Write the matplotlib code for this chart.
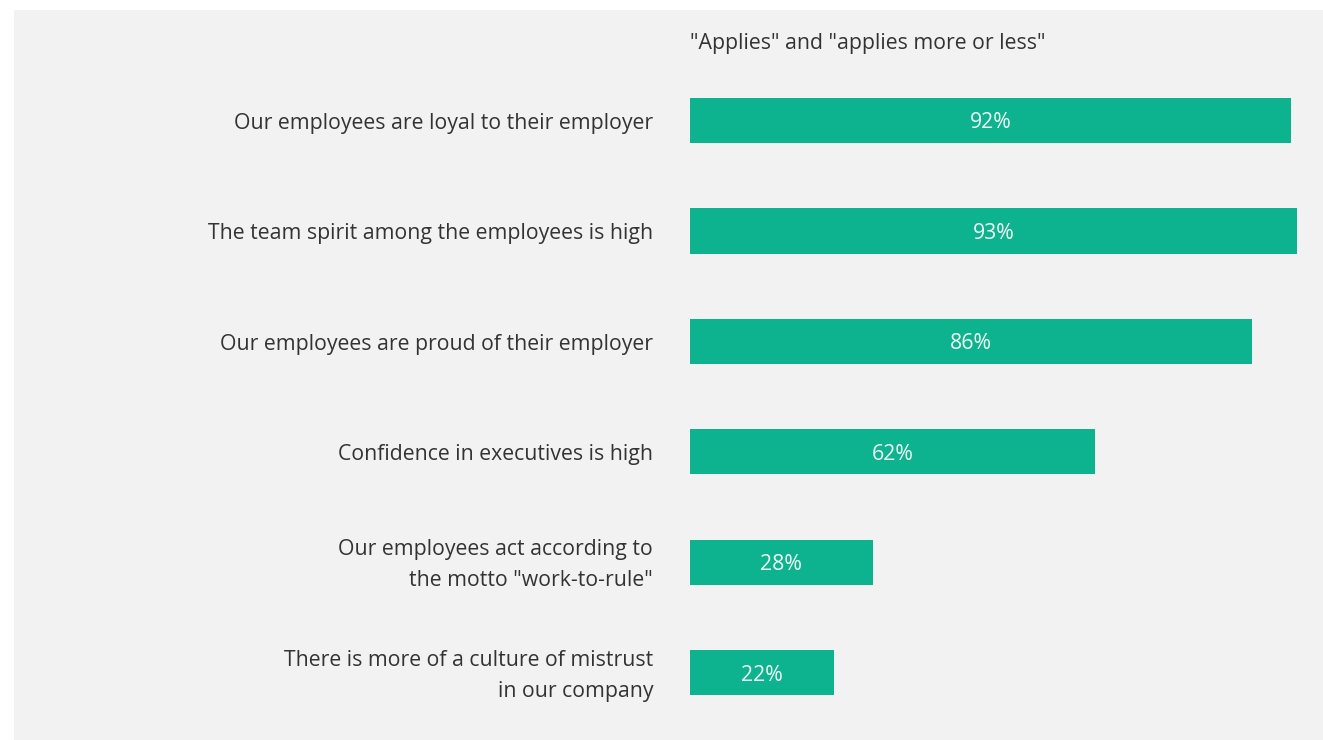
import matplotlib.pyplot as plt
from matplotlib.patches import Rectangle

# survey statements and share answering "applies" / "applies more or less"
statements = [
    "Our employees are loyal to their employer",
    "The team spirit among the employees is high",
    "Our employees are proud of their employer",
    "Confidence in executives is high",
    "Our employees act according to\nthe motto \"work-to-rule\"",
    "There is more of a culture of mistrust\nin our company",
]
shares = [92, 93, 86, 62, 28, 22]
header = "\"Applies\" and \"applies more or less\""

GREEN = "#0db28e"
PANEL = "#f1f2f1"
TEXT = "#333333"
FS = 15.3

plt.rcParams["font.family"] = ["Open Sans", "DejaVu Sans"]

W, H = 1323, 740
fig = plt.figure(figsize=(W / 100, H / 100), dpi=100, facecolor="white")

# light grey panel behind everything
fig.patches.append(Rectangle((14 / W, 0), 1 - 14 / W, 1 - 10 / H,
                             transform=fig.transFigure, facecolor=PANEL,
                             edgecolor="none", zorder=-10))

ax = fig.add_axes([690 / W, 0, 1 - 690 / W, 1 - 10 / H])
ax.set_facecolor("none")
ax.set_zorder(1)

pos = list(range(len(statements)))
ax.barh(pos, shares, height=0.41, color=GREEN)

ax.set_xlim(0, (W - 690) / 6.53)
ax.set_ylim(5.61, -1.0)

for p, v in zip(pos, shares):
    ax.text(v / 2, p, f"{v}%", ha="center", va="center_baseline",
            color="#eef8f4", fontsize=FS)

ax.text(0.0, -0.70, header, ha="left", va="center", color=TEXT, fontsize=FS)

# category labels to the left of the bars, right aligned
for p, s in zip(pos, statements):
    ax.annotate(s, xy=(0, p), xycoords=("axes fraction", "data"),
                xytext=(-37, -3), textcoords="offset pixels",
                ha="right", va="center", fontsize=FS, color=TEXT,
                linespacing=1.64, annotation_clip=False)

ax.set_xticks([])
ax.set_yticks([])
for s in ax.spines.values():
    s.set_visible(False)

fig.savefig("out.png", dpi=100, facecolor="white")
